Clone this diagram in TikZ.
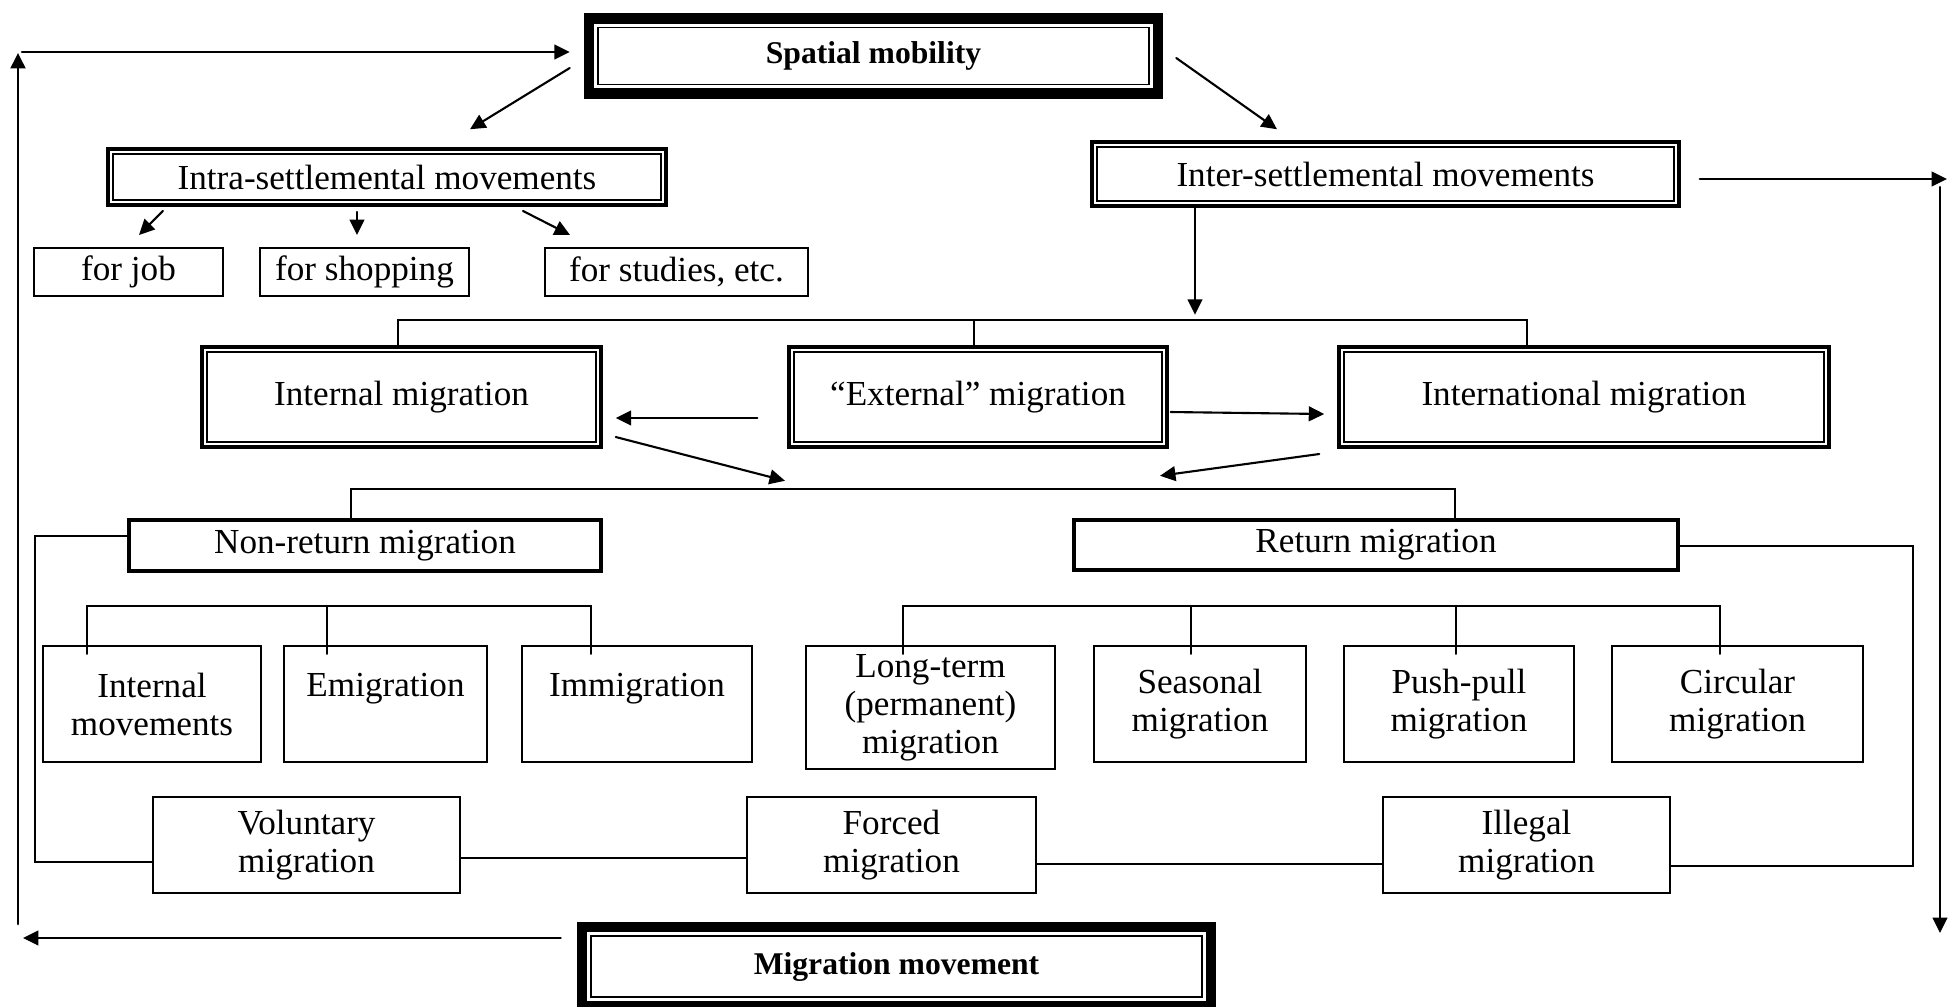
\documentclass[tikz,border=0pt]{standalone}
\usepackage{fontspec}
\setmainfont{Liberation Serif}
\usetikzlibrary{arrows.meta,positioning}

\begin{document}
\begin{tikzpicture}[line cap=round, line width=0.6pt,
        >={Triangle[length=4.4pt,width=4.2pt]},
        box/.style={draw, line width=0.6pt, align=center, inner sep=1pt, font=\fontsize{10}{10.8}\selectfont},
        dblbox/.style={box, line width=1pt, path picture={\draw[line width=0.45pt] ([shift={(0.05,0.05)}]path picture bounding box.south west) rectangle ([shift={(-0.05,-0.05)}]path picture bounding box.north east);}},
        heavybox/.style={box, line width=3pt, font=\bfseries\fontsize{9}{10}\selectfont, path picture={\draw[line width=0.5pt] ([shift={(0.09,0.09)}]path picture bounding box.south west) rectangle ([shift={(-0.09,-0.09)}]path picture bounding box.north east);}},
        thickbox/.style={box, line width=1.2pt}]
        \useasboundingbox (0,0) rectangle (19.5,-10.06);

        % top and bottom
        \node[heavybox, minimum width=5.69cm, minimum height=0.75cm] (spatial) at (8.735,-0.56) {Spatial mobility};
        \node[heavybox, minimum width=6.29cm, minimum height=0.79cm] (mm) at (8.965,-9.665) {Migration movement};

        % settlement level
        \node[dblbox, minimum width=5.58cm, minimum height=0.56cm] (intra) at (3.87,-1.77) {Intra-settlemental movements};
        \node[dblbox, minimum width=5.87cm, minimum height=0.64cm] (inter) at (13.855,-1.74) {Inter-settlemental movements};
        \node[box, minimum width=1.89cm, minimum height=0.48cm] (job) at (1.285,-2.72) {for job};
        \node[box, minimum width=2.09cm, minimum height=0.48cm] (shop) at (3.645,-2.72) {for shopping};
        \node[box, minimum width=2.63cm, minimum height=0.48cm] (study) at (6.765,-2.72) {for studies, etc.};

        % kinds of migration
        \node[dblbox, minimum width=3.99cm, minimum height=1.00cm] (intmig) at (4.015,-3.97) {Internal migration};
        \node[dblbox, minimum width=3.78cm, minimum height=1.00cm] (extmig) at (9.78,-3.97) {“External” migration};
        \node[dblbox, minimum width=4.90cm, minimum height=1.00cm] (intlmig) at (15.84,-3.97) {International migration};
        \node[thickbox, minimum width=4.72cm, minimum height=0.51cm] (nonret) at (3.65,-5.455) {Non-return migration};
        \node[thickbox, minimum width=6.04cm, minimum height=0.50cm] (ret) at (13.76,-5.45) {Return migration};

        % leaves
        \node[box, minimum width=2.18cm, minimum height=1.16cm] (inmov) at (1.52,-7.04) {Internal\\movements};
        \node[box, minimum width=2.03cm, minimum height=1.16cm] (emig) at (3.855,-7.04) {Emigration\\\mbox{}};
        \node[box, minimum width=2.30cm, minimum height=1.16cm] (immig) at (6.37,-7.04) {Immigration\\\mbox{}};
        \node[box, minimum width=2.49cm, minimum height=1.23cm] (longterm) at (9.305,-7.075) {Long-term\\(permanent)\\migration};
        \node[box, minimum width=2.12cm, minimum height=1.16cm] (seas) at (12.00,-7.04) {Seasonal\\migration};
        \node[box, minimum width=2.30cm, minimum height=1.16cm] (push) at (14.59,-7.04) {Push-pull\\migration};
        \node[box, minimum width=2.51cm, minimum height=1.16cm] (circ) at (17.375,-7.04) {Circular\\migration};
        \node[box, minimum width=3.07cm, minimum height=0.96cm] (vol) at (3.065,-8.45) {Voluntary\\migration};
        \node[box, minimum width=2.89cm, minimum height=0.96cm] (forced) at (8.915,-8.45) {Forced\\migration};
        \node[box, minimum width=2.87cm, minimum height=0.96cm] (illegal) at (15.265,-8.45) {Illegal\\migration};

        % loop on the left
        \coordinate (lt) at (0.22,-0.52);
        \coordinate (lv1) at (0.18,-9.24);
        \coordinate (lv2) at (0.18,-0.53);
        \coordinate (lb) at (0.23,-9.38);
        \draw[->, line width=0.8pt] (lv1) -- (lv2);
        \draw[->, shorten >=0.14cm] (lt) -- (lt -| spatial.west);
        \draw[->, shorten <=0.16cm] (lb -| mm.west) -- (lb);

        % loop on the right
        \coordinate (rt) at (19.47,-1.79);
        \coordinate (rv1) at (19.40,-1.87);
        \coordinate (rv2) at (19.40,-9.33);
        \draw[->, shorten <=0.19cm] (rt -| inter.east) -- (rt);
        \draw[->] (rv1) -- (rv2);

        % from spatial mobility
        \draw[->] ([shift={(-0.14,-0.12)}]spatial.west) -- ([shift={(0.83,0.18)}]intra.north);
        \draw[->] ([shift={(0.13,-0.02)}]spatial.east) -- ([shift={(-1.085,0.11)}]inter.north);

        % intra-settlemental purposes
        \draw[->] ([shift={(0.345,0.36)}]job.north) -- ([shift={(0.105,0.12)}]job.north);
        \draw[->] ([shift={(-0.075,0.35)}]shop.north) -- ([shift={(-0.075,0.12)}]shop.north);
        \draw[->] ([shift={(-1.535,0.36)}]study.north) -- ([shift={(-1.065,0.12)}]study.north);

        % down to the migration kinds
        \draw[->] ([xshift=-1.905cm]inter.south) -- ++(0,-1.07);
        \draw ([xshift=-0.035cm]intmig.north) -- ++(0,0.25) -| ([xshift=-0.57cm]intlmig.north);
        \draw ([xshift=-0.04cm]extmig.north) -- ++(0,0.25);

        % sideways arrows
        \draw[->] ([shift={(-0.30,-0.21)}]extmig.west) -- ([shift={(0.13,-0.21)}]intmig.east);
        \draw[->] ([shift={(0.02,-0.15)}]extmig.east) -- ([shift={(-0.13,-0.17)}]intlmig.west);
        \draw[->] ([shift={(0.13,-0.40)}]intmig.east) -- ([shift={(-1.93,-0.32)}]extmig.south);
        \draw[->] ([shift={(-0.18,-0.57)}]intlmig.west) -- ([shift={(1.82,-0.27)}]extmig.south);

        % return / non-return
        \draw ([xshift=-0.14cm]nonret.north) -- ++(0,0.29) -| ([xshift=0.79cm]ret.north);

        % lines through the bottom row
        \coordinate (lcor) at (0.35,-8.62);
        \draw ([yshift=0.095cm]nonret.west) -| (lcor) -- (lcor -| vol.west);
        \draw ([yshift=-0.13cm]vol.east) -- ([yshift=-0.13cm]forced.west);
        \draw ([yshift=-0.19cm]forced.east) -- ([yshift=-0.19cm]illegal.west);
        \coordinate (rcor) at (19.13,-5.46);
        \draw ([yshift=-0.21cm]illegal.east) -| (rcor) -- (rcor -| ret.east);

        % brackets above the leaves
        \draw ([shift={(-0.65,-0.09)}]inmov.north) -- ++(0,0.48) -| ([shift={(-0.46,-0.09)}]immig.north);
        \draw ([shift={(-0.585,-0.09)}]emig.north) -- ++(0,0.48);
        \draw ([shift={(-0.275,-0.09)}]longterm.north) -- ++(0,0.48) -| ([shift={(-0.175,-0.09)}]circ.north);
        \draw ([shift={(-0.09,-0.09)}]seas.north) -- ++(0,0.48);
        \draw ([shift={(-0.03,-0.09)}]push.north) -- ++(0,0.48);
\end{tikzpicture}
\end{document}
